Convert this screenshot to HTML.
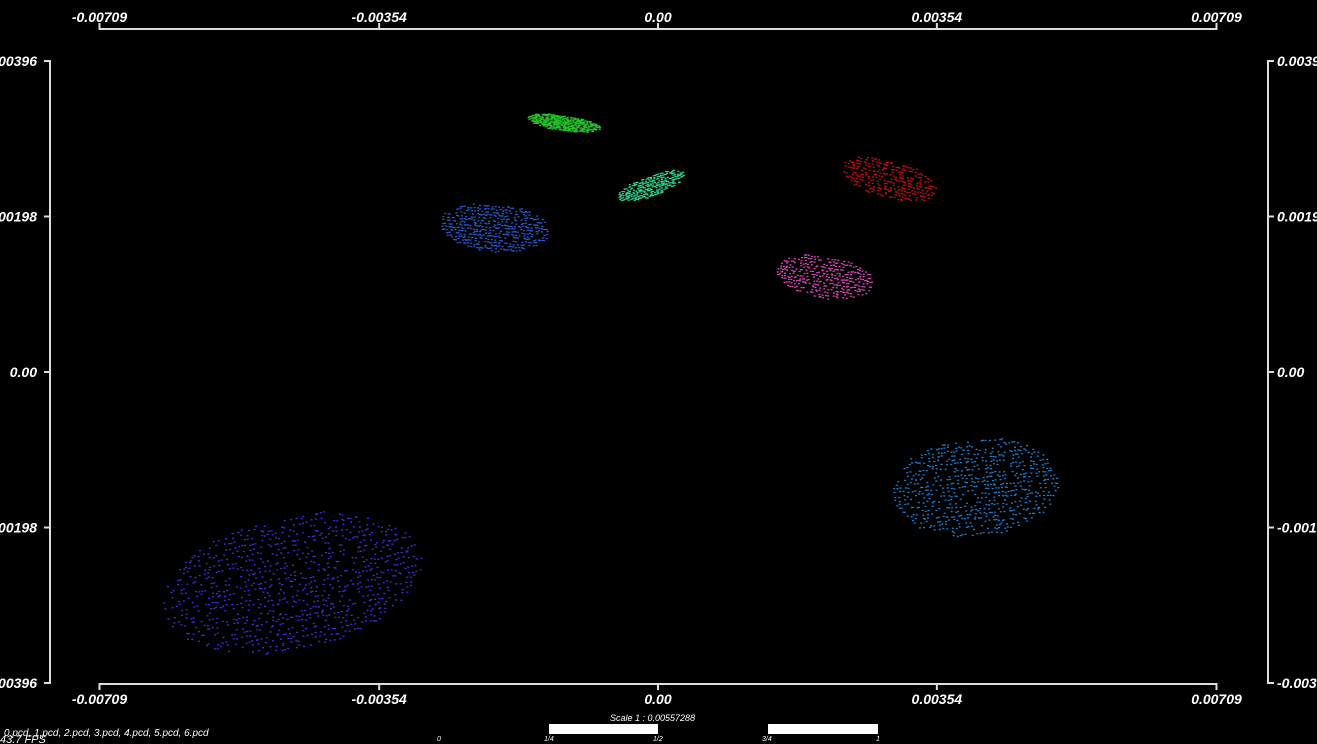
<!DOCTYPE html>
<html><head><meta charset="utf-8"><style>
html,body{margin:0;padding:0;background:#000;width:1317px;height:744px;overflow:hidden}
svg{display:block}
text{font-family:"Liberation Sans","DejaVu Sans",sans-serif;font-style:italic;fill:#fff}
</style></head><body>
<svg id="chart" width="1317" height="744" viewBox="0 0 1317 744" xmlns="http://www.w3.org/2000/svg">
<rect width="1317" height="744" fill="#000"/>
<g id="axes"></g>
<g id="clouds"></g>
<text x="4" y="736" font-size="10" font-style="normal">0.pcd, 1.pcd, 2.pcd, 3.pcd, 4.pcd, 5.pcd, 6.pcd</text>
<text x="0" y="743" font-size="11" font-style="normal" fill="#ccc">43.7 FPS</text>
<text x="610" y="721" font-size="9">Scale 1 : 0.00557288</text>
<rect x="549" y="724" width="109" height="10" fill="#fff"/>
<rect x="768" y="724" width="110" height="10" fill="#fff"/>
<text x="437" y="741" font-size="7">0</text>
<text x="544" y="741" font-size="7">1/4</text>
<text x="653" y="741" font-size="7">1/2</text>
<text x="762" y="741" font-size="7">3/4</text>
<text x="876" y="741" font-size="7">1</text>
</svg>
<script>
const xTicks = [-0.00709, -0.00354, 0.00, 0.00354, 0.00709];
const xTickLabels = ["-0.00709", "-0.00354", "0.00", "0.00354", "0.00709"];
const yTicks = [0.00396, 0.00198, 0.00, -0.00198, -0.00396];
const yTickLabels = ["0.00396", "0.00198", "0.00", "-0.00198", "-0.00396"];
const cloudNames = ["0.pcd","1.pcd","2.pcd","3.pcd","4.pcd","5.pcd","6.pcd"];
const cloudCx = [-0.001206, -0.000102, -0.002082, 0.00292, 0.002107, 0.004024, -0.004659];
const cloudCy = [0.003178, 0.002377, 0.001843, 0.002466, 0.00122, -0.001462, -0.002682];
const cloudRx = [0.00047, 0.00045, 0.00069, 0.00062, 0.00062, 0.00106, 0.00167];
const cloudRy = [0.0001, 0.00013, 0.00031, 0.00024, 0.00027, 0.00063, 0.00085];
const cloudAngle = [8, -20, 5, 15, 10, -5, -12];
const cloudColors = ["#22c22a", "#2ed28c", "#2a5ad0", "#c21010", "#d845b4", "#1a80d4", "#3c30e6"];
const cloudSpacing = [1.5, 2, 3, 3, 3, 4, 5];

const X0=658, XS=558.5/0.00709, Y0=372, YS=311/0.00396;
const sx = v => X0 + v*XS;
const sy = v => Y0 - v*YS;
const NS="http://www.w3.org/2000/svg";
const axes=document.getElementById('axes');
function el(t,a,p){const e=document.createElementNS(NS,t);for(const k in a)e.setAttribute(k,a[k]);p.appendChild(e);return e;}
const L=sx(xTicks[0]),R=sx(xTicks[4]),T=sy(yTicks[0]),B=sy(yTicks[4]);
const st={stroke:"#ddd","stroke-width":2,fill:"none"};
let a;
a=el('path',Object.assign({d:`M${L} 23V29H${R}V23`},st),axes);


a=el('path',Object.assign({d:`M${L} 690V684H${R}V690`},st),axes);


a=el('path',Object.assign({d:`M44 ${T}H50V${B}H44`},st),axes);


a=el('path',Object.assign({d:`M1274 ${T}H1268V${B}H1274`},st),axes);


xTicks.forEach((v,i)=>{
  const x=sx(v);
  if(i>0&&i<4){
    a=el('line',Object.assign({x1:x,x2:x,y1:23,y2:29},st),axes);
    
    
    a=el('line',Object.assign({x1:x,x2:x,y1:684,y2:690},st),axes);
    
    
  }
  let t=el('text',{x:x,y:22,"font-size":14,"font-weight":"bold","text-anchor":"middle"},axes);t.textContent=xTickLabels[i];
  
  
  t=el('text',{x:x,y:704,"font-size":14,"font-weight":"bold","text-anchor":"middle"},axes);t.textContent=xTickLabels[i];
  
  
});
yTicks.forEach((v,i)=>{
  const y=sy(v);
  if(i>0&&i<4){
    a=el('line',Object.assign({x1:44,x2:50,y1:y,y2:y},st),axes);
    
    
    a=el('line',Object.assign({x1:1268,x2:1274,y1:y,y2:y},st),axes);
    
    
  }
  let t=el('text',{x:37,y:y+5,"font-size":14,"font-weight":"bold","text-anchor":"end"},axes);t.textContent=yTickLabels[i];
  
  
  t=el('text',{x:1277,y:y+5,"font-size":14,"font-weight":"bold"},axes);t.textContent=yTickLabels[i];
  
  
});
const clouds=document.getElementById('clouds');
function h(i,j,k){let n=(i*374761393+j*668265263+k*2147483647)|0;n=(n^(n>>>13))*1274126177|0;return ((n^(n>>>16))>>>0)/4294967296;}
cloudNames.forEach((nm,c)=>{
  const g=el('g',{fill:cloudColors[c]},clouds);
  
  
  const cx=sx(cloudCx[c]),cy=sy(cloudCy[c]),rx=cloudRx[c]*XS,ry=cloudRy[c]*YS;
  const an=cloudAngle[c]*Math.PI/180,ca=Math.cos(an),sa=Math.sin(an);
  const s=cloudSpacing[c];
  let d="";
  for(let v=-ry;v<=ry;v+=s){
    for(let u=-rx;u<=rx;u+=s*0.7){
      const q=(u*u)/(rx*rx)+(v*v)/(ry*ry);
      if(q>1)continue;
      const iu=Math.round(u*10),iv=Math.round(v*10);
      if(h(iu,iv,c)<(c>=5?0.45:0.35))continue;
      const jx=(h(iv,iu,c+7)-0.5)*s*0.6, jy=(h(iu+3,iv+5,c)-0.5)*s*0.5;
      const px=cx+u*ca-v*sa+jx, py=cy+(u*sa+v*ca)+jy;
      d+=`M${px.toFixed(1)} ${py.toFixed(1)}h2v1.3h-2z`;
    }
  }
  el('path',{d:d},g);
});
</script>
</body></html>
